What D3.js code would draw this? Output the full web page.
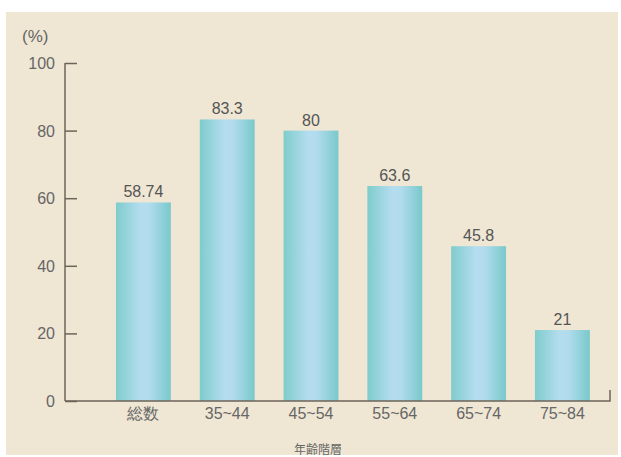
<!DOCTYPE html>
<html><head><meta charset="utf-8">
<script src="https://cdn.jsdelivr.net/npm/d3@7"></script>
<style>body{margin:0;background:#fff;}svg{display:block;}</style>
</head><body>
<svg id="c" width="621" height="457"></svg>
<script>
const categories = ["総数", "35~44", "45~54", "55~64", "65~74", "75~84"];
const values = [58.74, 83.3, 80, 63.6, 45.8, 21];
const valueLabels = ["58.74", "83.3", "80", "63.6", "45.8", "21"];
const yTicks = [0, 20, 40, 60, 80, 100];
const yUnit = "(%)";
const xTitle = "年齢階層";

const svg = d3.select("#c");
const font = "'Liberation Sans', Arial, sans-serif";
const defs = svg.append("defs");
const g = defs.append("linearGradient").attr("id","bar").attr("x1","0").attr("x2","1").attr("y1","0").attr("y2","0");
g.append("stop").attr("offset","0").attr("stop-color","#7fcccc");
g.append("stop").attr("offset","0.45").attr("stop-color","#b4ddef");
g.append("stop").attr("offset","0.6").attr("stop-color","#b2dcee");
g.append("stop").attr("offset","1").attr("stop-color","#79c9cb");

svg.append("rect").attr("x",6).attr("y",12).attr("width",612).attr("height",443).attr("fill","#efe7d4");

const x = d3.scaleBand().domain(categories).range([101.5, 604.3]).paddingInner(0.345).paddingOuter(0.1725);
const y = d3.scaleLinear().domain([0,100]).range([401, 63]);

svg.selectAll("rect.bar").data(values).join("rect").attr("class","bar")
  .attr("x",(d,i)=>x(categories[i])).attr("width",x.bandwidth())
  .attr("y",d=>y(d)).attr("height",d=>y(0)-y(d)).attr("fill","url(#bar)");

svg.selectAll("text.val").data(values).join("text").attr("class","val")
  .attr("x",(d,i)=>x(categories[i])+x.bandwidth()/2).attr("y",d=>y(d)-5)
  .attr("text-anchor","middle").attr("font-family",font).attr("font-size",16)
  .attr("fill","#555").text((d,i)=>valueLabels[i]);

const yAxis = d3.axisRight(y).tickValues(yTicks).tickSize(12).tickFormat("");
const ya = svg.append("g").attr("transform","translate(65,0)").call(yAxis);
ya.select(".domain").attr("stroke","#6d6458").attr("stroke-width",1.5).attr("d","M0,63V401");
ya.selectAll(".tick line").attr("stroke","#6d6458").attr("stroke-width",1.5);
svg.selectAll("text.yt").data(yTicks).join("text").attr("class","yt")
  .attr("x",55).attr("y",d=>y(d)+6).attr("text-anchor","end")
  .attr("font-family",font).attr("font-size",16).attr("fill","#666").text(d=>d);

const xAxis = d3.axisBottom(x).tickSize(0).tickPadding(7);
const xa = svg.append("g").attr("transform","translate(0,401)").call(xAxis);
xa.select(".domain").attr("stroke","#6d6458").attr("stroke-width",1.5).attr("d","M65,0H610V-11");
xa.selectAll("text").attr("font-family",font).attr("font-size",16).attr("fill","#666");

svg.append("text").attr("x",22).attr("y",42).attr("font-family",font).attr("font-size",17).attr("fill","#666").text(yUnit);
svg.append("text").attr("x",318).attr("y",454).attr("text-anchor","middle").attr("font-family","'Noto Sans CJK JP', sans-serif").attr("font-size",12).attr("fill","#666").text(xTitle);
</script>
</body></html>
